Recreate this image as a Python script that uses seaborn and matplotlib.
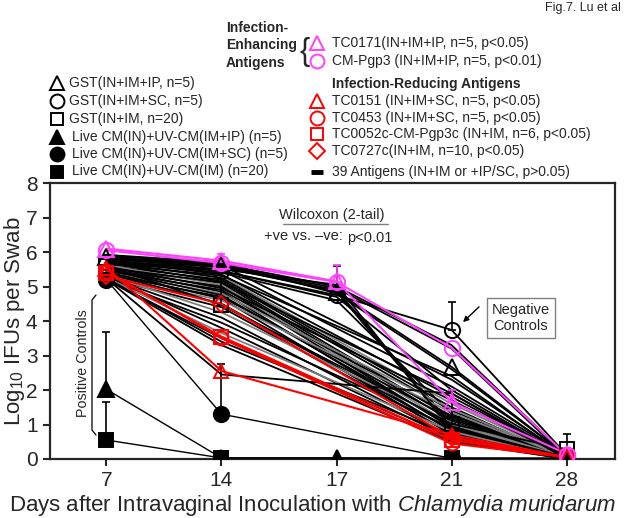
import numpy as np
import pandas as pd
import matplotlib
matplotlib.use('Agg')
import matplotlib.pyplot as plt
import seaborn as sns

# log10 IFUs per swab at days 7, 14, 17, 21, 28 (nan = not sampled)
days = ['7', '14', '17', '21', '28']
nan = np.nan

gst_ip = [5.85, 5.62, 4.85, 2.67, 0.10]
gst_sc = [5.70, 5.45, 4.75, 3.74, 0.12]
gst_im = [5.60, 4.46, nan, 1.02, 0.28]
live_ip = [2.02, 0.03, 0.03, 0.00, 0.00]
live_sc = [5.20, 1.30, nan, 0.02, 0.00]
live_im = [0.55, 0.03, nan, 0.03, 0.03]

tc0171 = [6.10, 5.75, 5.15, 1.65, 0.15]
pgp3 = [6.05, 5.68, 5.13, 3.22, 0.12]

tc0151 = [5.55, 2.55, nan, 0.70, 0.05]
tc0453 = [5.45, 3.50, nan, 0.45, 0.05]
tc0052c = [5.40, 3.55, nan, 0.55, 0.05]
tc0727c = [5.30, 4.50, nan, 0.62, 0.05]

# upper error bars
err_gst_ip = [0, 0, 0.75, 0, 0]
err_gst_sc = [0, 0, 0, 0.80, 0]
err_gst_im = [0, 1.30, 0, 0.95, 0.45]
err_live_ip = [1.65, 0, 0, 0, 0]
err_live_sc = [0, 1.45, 0, 0, 0]
err_live_im = [1.10, 0, 0, 0, 0]
err_tc0171 = [0, 0.20, 0, 0.35, 0]
err_pgp3 = [0, 0, 0.50, 0, 0]

# 39 antigens without significant effect
antigens = [
    [5.90, 5.65, 5.00, 3.30, 0.10],
    [5.85, 5.60, 4.95, 3.20, 0.05],
    [5.80, 5.55, 4.90, 1.00, 0.05],
    [5.75, 5.50, 5.05, 0.80, 0.00],
    [5.88, 5.45, 4.70, 2.00, 0.05],
    [5.70, 5.40, 4.60, 1.30, 0.05],
    [5.82, 5.62, nan, 2.30, 0.10],
    [5.78, 5.35, nan, 1.80, 0.05],
    [5.65, 5.30, nan, 1.60, 0.05],
    [5.72, 5.25, nan, 1.50, 0.00],
    [5.60, 5.20, nan, 1.40, 0.05],
    [5.68, 5.15, nan, 1.20, 0.05],
    [5.55, 5.10, nan, 1.10, 0.00],
    [5.62, 5.05, nan, 1.00, 0.05],
    [5.50, 5.00, nan, 0.90, 0.00],
    [5.58, 4.95, nan, 1.70, 0.05],
    [5.45, 4.90, nan, 1.25, 0.05],
    [5.52, 4.85, nan, 0.80, 0.00],
    [5.40, 4.80, nan, 1.45, 0.05],
    [5.48, 4.75, nan, 0.95, 0.00],
    [5.35, 4.70, nan, 1.15, 0.05],
    [5.42, 4.65, nan, 0.70, 0.00],
    [5.30, 4.60, nan, 1.35, 0.05],
    [5.38, 4.50, nan, 0.85, 0.00],
    [5.25, 4.40, nan, 0.75, 0.00],
    [5.33, 4.25, nan, 1.05, 0.05],
    [5.28, 4.10, nan, 0.65, 0.00],
    [5.22, 3.95, nan, 0.90, 0.00],
    [5.30, 3.80, nan, 0.60, 0.00],
    [5.26, 3.65, nan, 0.80, 0.00],
    [5.20, 3.50, nan, 0.55, 0.00],
    [5.24, 3.40, nan, 0.70, 0.00],
    [5.21, 3.30, nan, 0.50, 0.00],
    [5.23, 2.45, nan, 1.90, 0.00],
    [5.92, 5.70, 4.80, 2.60, 0.10],
    [5.86, 5.58, 4.85, 0.90, 0.05],
    [5.76, 5.48, nan, 2.10, 0.10],
    [5.66, 5.32, nan, 2.40, 0.05],
    [5.54, 5.12, nan, 1.90, 0.05],
]
gray_antigens = [8, 13, 18, 22, 25, 29]

sns.set_style('ticks')
plt.rcParams['font.family'] = ['Liberation Sans', 'DejaVu Sans']
plt.rcParams['mathtext.fontset'] = 'custom'
plt.rcParams['mathtext.rm'] = 'Liberation Sans'
plt.rcParams['mathtext.it'] = 'Liberation Sans:italic'

fig = plt.figure(figsize=(6.25, 5.18), dpi=100)
ax = fig.add_axes([0.08, 0.1139, 0.904, 0.5328])
pos = np.arange(len(days))

# antigen bundle
rows = []
for i, vals in enumerate(antigens):
    for p, v in zip(pos, vals):
        rows.append({'series': 'a%02d' % i, 'pos': p, 'val': v})
ab = pd.DataFrame(rows).dropna()
pal = {'a%02d' % i: ('#7f7f7f' if i in gray_antigens else 'black') for i in range(len(antigens))}
sns.lineplot(data=ab, x='pos', y='val', hue='series', palette=pal, estimator=None,
             legend=False, lw=1.3, ax=ax, sort=False)


def series(vals, color, marker, filled, ms, err=None, lw=1.3):
    d = pd.DataFrame({'pos': pos, 'val': vals}).dropna()
    sns.lineplot(data=d, x='pos', y='val', color=color, lw=lw, ax=ax, sort=False,
                 estimator=None, zorder=3)
    if err is not None:
        e = np.array(err, dtype=float)
        m = e > 0
        ax.errorbar(pos[m], np.array(vals)[m], yerr=[np.zeros(m.sum()), e[m]], fmt='none',
                    ecolor=color, elinewidth=1.2, capsize=3, capthick=1.2, zorder=3)
    ax.plot(d['pos'], d['val'], ls='none', marker=marker, ms=ms,
            mfc=color if filled else 'none', mec=color, mew=1.4, zorder=4)


series(gst_ip, 'black', '^', False, 11, err_gst_ip)
series(gst_sc, 'black', 'o', False, 11, err_gst_sc)
series(gst_im, 'black', 's', False, 10, err_gst_im)
series(live_ip, 'black', '^', True, 11, err_live_ip, lw=1)
series(live_sc, 'black', 'o', True, 11, err_live_sc, lw=1)
series(live_im, 'black', 's', True, 10, err_live_im, lw=1)
series(tc0151, 'red', '^', False, 10, lw=1.5)
series(tc0453, 'red', 'o', False, 10, lw=1.5)
series(tc0052c, 'red', 's', False, 10, lw=1.5)
series(tc0727c, 'red', 'D', False, 8, lw=1.5)
series(tc0171, '#ff40ff', '^', False, 11, err_tc0171, lw=1.5)
series(pgp3, '#ff40ff', 'o', False, 11, err_pgp3, lw=1.5)

ax.set_xlim(-0.49, 4.42)
ax.set_ylim(0, 8)
ax.set_xticks(pos)
ax.set_xticklabels(days)
ax.set_yticks(range(0, 9))
ax.tick_params(labelsize=15, width=1.5, length=5, pad=4)
for s in ax.spines.values():
    s.set_linewidth(1.6)
ax.set_xlabel('Days after Intravaginal Inoculation with $\\it{Chlamydia\\ muridarum}$',
              fontsize=16)
ax.xaxis.set_label_coords(0.4646, -0.125)
ax.set_ylabel('Log$_{10}$ IFUs per Swab', fontsize=16)
ax.yaxis.set_label_coords(-0.04, 0.5)

# overlay in pixel coordinates for legends and notes
ov = fig.add_axes([0, 0, 1, 1], facecolor='none')
ov.set_xlim(0, 625)
ov.set_ylim(518, 0)
ov.axis('off')

ov.text(621, 8, 'Fig.7. Lu et al', ha='right', va='center', fontsize=9)

left_items = [('^', False, 'GST(IN+IM+IP, n=5)'),
              ('o', False, 'GST(IN+IM+SC, n=5)'),
              ('s', False, 'GST(IN+IM, n=20)'),
              ('^', True, 'Live CM(IN)+UV-CM(IM+IP) (n=5)'),
              ('o', True, 'Live CM(IN)+UV-CM(IM+SC) (n=5)'),
              ('s', True, 'Live CM(IN)+UV-CM(IM) (n=20)')]
left_y = [83, 101, 118.5, 136.5, 154, 171.5]
for (mk, filled, lab), y in zip(left_items, left_y):
    ov.plot([57], [y], marker=mk, ms=10 if mk != 's' else 9, mfc='black' if filled else 'none',
            mec='black', mew=1.4, ls='none', clip_on=False)
    ov.text(69 if not filled else 72, y, lab, va='center', fontsize=10)

for t, y in zip(['Infection-', 'Enhancing', 'Antigens'], [28, 45.5, 63]):
    ov.text(226, y, t, va='center', fontsize=10, fontweight='bold')
ov.text(299, 52, '{', va='center', fontsize=22)
ov.plot([317], [43], marker='^', ms=10, mfc='none', mec='#ff40ff', mew=1.4, ls='none')
ov.text(332, 43, 'TC0171(IN+IM+IP, n=5, p<0.05)', va='center', fontsize=10)
ov.plot([317], [61], marker='o', ms=10, mfc='none', mec='#ff40ff', mew=1.4, ls='none')
ov.text(332, 61, 'CM-Pgp3 (IN+IM+IP, n=5, p<0.01)', va='center', fontsize=10)

ov.text(332, 84, 'Infection-Reducing Antigens', va='center', fontsize=10, fontweight='bold')
red_items = [('^', 10, 'TC0151 (IN+IM+SC, n=5, p<0.05)'),
             ('o', 10, 'TC0453 (IN+IM+SC, n=5, p<0.05)'),
             ('s', 9, 'TC0052c-CM-Pgp3c (IN+IM, n=6, p<0.05)'),
             ('D', 8, 'TC0727c(IN+IM, n=10, p<0.05)')]
for (mk, ms, lab), y in zip(red_items, [101, 118, 134, 151]):
    ov.plot([317], [y], marker=mk, ms=ms, mfc='none', mec='red', mew=1.4, ls='none')
    ov.text(332, y, lab, va='center', fontsize=10)
ov.plot([311, 323], [172, 172], color='black', lw=3.5, solid_capstyle='butt')
ov.text(332, 172, '39 Antigens (IN+IM or +IP/SC, p>0.05)', va='center', fontsize=10)

# notes inside plot
ov.text(332, 215, 'Wilcoxon (2-tail)', ha='center', va='center', fontsize=10.5)
ov.plot([283, 388], [224, 224], color='#808080', lw=1)
ov.text(264, 236, '+ve vs. \u2013ve:', va='center', fontsize=10.5)
ov.text(347, 238, 'p<0.01', va='center', fontsize=10.5)

ov.text(83, 363, 'Positive Controls', rotation=90, ha='center', va='center', fontsize=10.3)
ov.plot([96, 92, 92, 96], [295, 300, 430, 435], color='black', lw=0.9)

ov.text(521, 318, 'Negative\nControls', ha='center', va='center', fontsize=10.5,
        linespacing=1.2, bbox=dict(boxstyle='square,pad=0.35', fc='white', ec='#808080', lw=1))
ov.annotate('', xy=(461, 324), xytext=(481, 305),
            arrowprops=dict(arrowstyle='-|>', color='black', lw=1, mutation_scale=8))

fig.savefig('out.png', dpi=100)
